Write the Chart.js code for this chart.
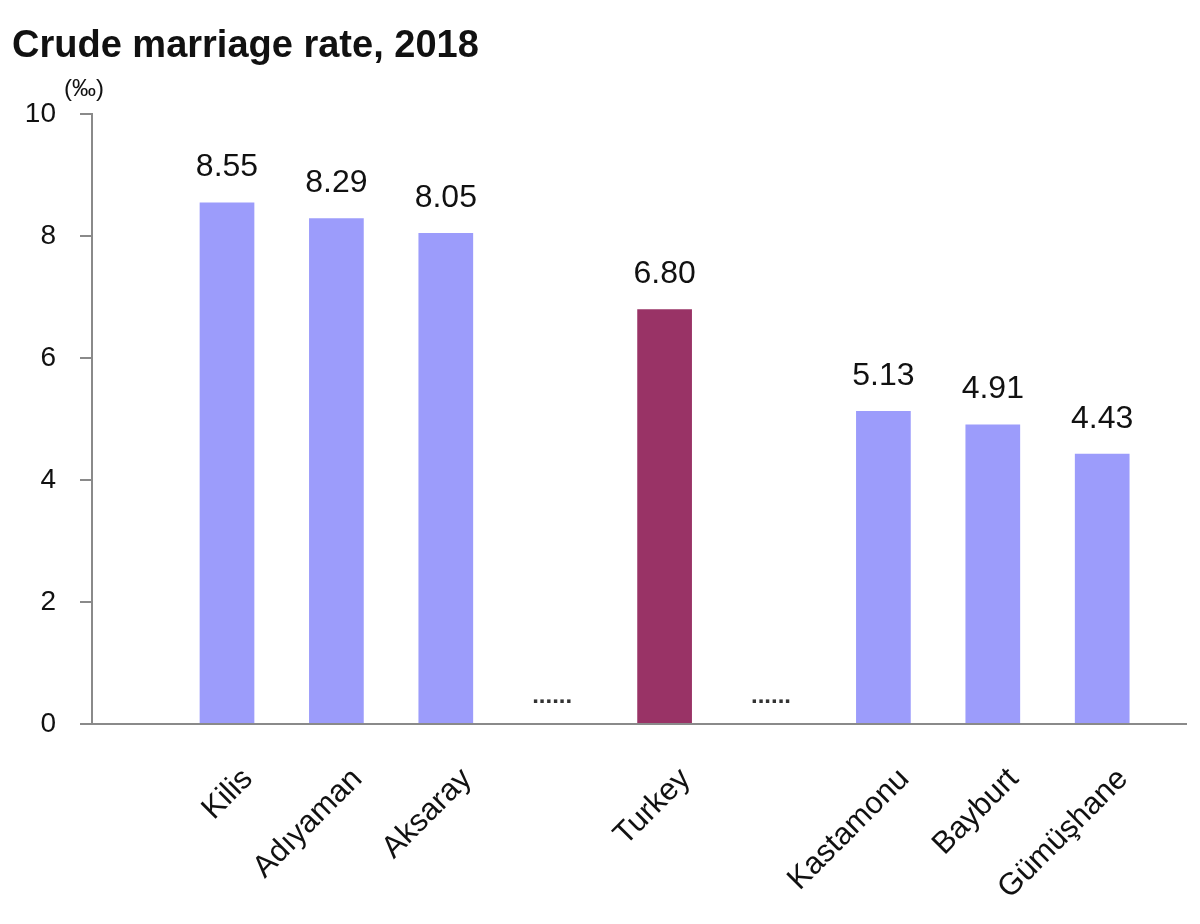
<!DOCTYPE html>
<html>
<head>
<meta charset="utf-8">
<script src="https://cdn.jsdelivr.net/npm/chart.js@4.4.0/dist/chart.umd.min.js"></script>
<style>
  html, body { margin: 0; padding: 0; background: #fff; }
  #wrap { width: 1200px; height: 924px; }
</style>
</head>
<body>
<div id="wrap"><canvas id="chart"></canvas></div>
<script>
// data
const titleText = 'Crude marriage rate, 2018';
const unitLabel = '(‰)';
const categories = ['Kilis', 'Adıyaman', 'Aksaray', '', 'Turkey', '', 'Kastamonu', 'Bayburt', 'Gümüşhane'];
const rates = [8.55, 8.29, 8.05, null, 6.80, null, 5.13, 4.91, 4.43];
const yTicks = [0, 2, 4, 6, 8, 10];
const gapLabel = '......';
const highlight = 'Turkey';

const provinceColor = '#9c9cfb';
const turkeyColor = '#993366';
const axisColor = '#8a8a8a';
const font = '"Liberation Sans", Arial, sans-serif';

const points = rates
    .map((v, i) => ({ x: i, y: v }))
    .filter(p => p.y !== null);

// labels above the bars, dots in the gaps, unit over the axis
const valueLabels = {
    id: 'valueLabels',
    afterDatasetsDraw(chart) {
        const ctx = chart.ctx;
        const meta = chart.getDatasetMeta(0);
        ctx.save();
        ctx.font = '32px ' + font;
        ctx.fillStyle = '#111';
        ctx.textAlign = 'center';
        ctx.textBaseline = 'bottom';
        meta.data.forEach((bar, k) => {
            ctx.fillText(points[k].y.toFixed(2), bar.x, bar.y - 19);
        });
        const xs = chart.scales.x, ys = chart.scales.y;
        ctx.font = 'bold 24px ' + font;
        ctx.fillStyle = '#333';
        ctx.textBaseline = 'middle';
        rates.forEach((v, i) => {
            if (v === null) ctx.fillText(gapLabel, xs.getPixelForValue(i) - 3, ys.getPixelForValue(0.45));
        });
        ctx.font = '24px ' + font;
        ctx.fillStyle = '#111';
        ctx.fillText(unitLabel, ys.right - 8, ys.getPixelForValue(10) - 25);
        ctx.restore();
    }
};

new Chart(document.getElementById('chart'), {
    type: 'bar',
    data: {
        datasets: [{
            data: points,
            backgroundColor: points.map(p => categories[p.x] === highlight ? turkeyColor : provinceColor),
            barPercentage: 0.5,
            categoryPercentage: 1
        }]
    },
    options: {
        responsive: true,
        maintainAspectRatio: false,
        animation: false,
        layout: { padding: { left: 12, right: 14, top: 0, bottom: 0 } },
        plugins: {
            legend: { display: false },
            tooltip: { enabled: false },
            title: {
                display: true,
                text: titleText,
                align: 'start',
                color: '#111',
                font: { family: font, size: 38, weight: 'bold' },
                padding: { top: 24, bottom: 44.4 }
            }
        },
        scales: {
            x: {
                type: 'linear',
                offset: false,
                min: -1.234,
                max: 8.766,
                grid: { display: false },
                border: { color: axisColor, width: 2 },
                afterBuildTicks: scale => {
                    scale.ticks = categories.map((c, i) => ({ value: i }));
                },
                afterFit: scale => { scale.height = 200; },
                ticks: {
                    autoSkip: false,
                    maxRotation: 45,
                    minRotation: 45,
                    labelOffset: 21,
                    padding: 29,
                    color: '#111',
                    font: { family: font, size: 31 },
                    callback: v => categories[v] || ''
                }
            },
            y: {
                min: 0,
                max: 10,
                afterBuildTicks: scale => {
                    scale.ticks = yTicks.map(v => ({ value: v }));
                },
                afterFit: scale => { scale.width = 80; },
                grid: { drawOnChartArea: false, tickLength: 12, color: axisColor, lineWidth: 2 },
                border: { color: axisColor, width: 2 },
                ticks: {
                    padding: 24,
                    color: '#111',
                    font: { family: font, size: 28 }
                }
            }
        }
    },
    plugins: [valueLabels]
});
</script>
</body>
</html>
